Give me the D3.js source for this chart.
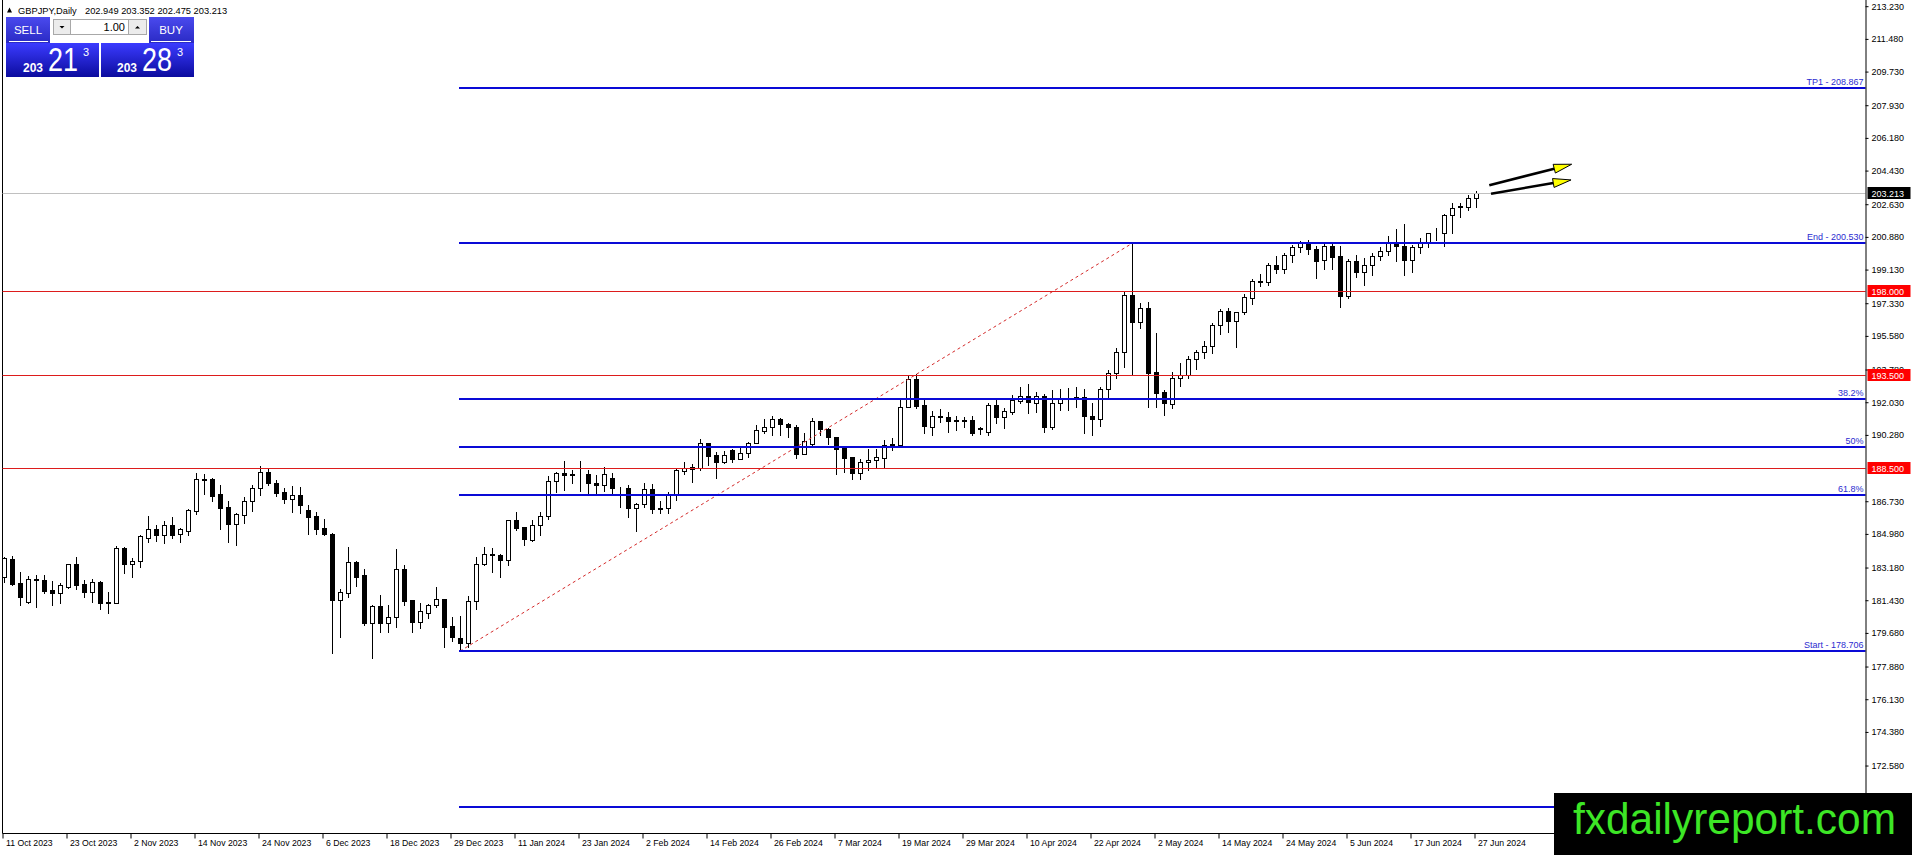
<!DOCTYPE html>
<html>
<head>
<meta charset="utf-8">
<title>GBPJPY Daily</title>
<script src="https://cdn.jsdelivr.net/npm/d3@7"></script>
<style>
  html, body { margin: 0; padding: 0; background: #fff; }
  svg { display: block; font-family: "Liberation Sans", Arial, sans-serif; }
</style>
</head>
<body>
<svg id="chart" width="1912" height="855"></svg>
<script>
// Daily candles, one value per bar (11 Oct 2023 .. 27 Jun 2024)
const opens = [
  182.66,183.62,182.33,181.35,182.57,182.50,181.98,181.84,182.16,183.35,182.30,181.89,182.41,181.30,181.30,184.24,183.35,183.51,184.74,185.23,
  184.90,185.44,184.98,185.15,186.22,187.87,187.92,187.12,186.42,185.49,185.98,186.76,187.42,188.28,187.71,187.22,186.87,187.05,186.26,185.94,
  185.30,184.98,181.42,181.84,183.46,182.78,180.23,181.12,180.23,180.51,183.10,181.42,180.28,180.73,181.16,181.50,180.05,179.39,179.12,181.41,
  183.35,183.89,183.85,183.57,185.73,185.35,184.64,185.44,185.94,187.80,188.24,188.19,188.17,188.19,187.71,187.58,187.96,187.46,187.42,186.35,
  186.58,187.37,186.33,186.35,187.05,188.37,188.44,188.53,189.83,189.20,188.85,189.47,189.01,189.29,189.87,190.51,190.72,191.11,190.85,190.72,
  189.28,189.81,191.03,190.60,190.15,189.60,189.08,188.26,188.81,188.94,189.06,189.76,189.74,191.79,193.26,191.86,190.72,191.29,191.22,191.08,
  191.06,191.08,190.63,190.45,191.88,191.26,191.52,192.08,192.36,192.01,192.36,190.72,191.97,192.24,192.29,192.29,191.29,191.15,192.72,193.58,
  194.70,197.77,196.34,197.06,193.65,192.58,191.93,193.31,193.47,194.33,194.70,195.06,196.16,196.90,196.40,196.84,197.59,198.50,198.45,199.36,
  199.16,199.89,200.32,200.54,200.21,199.64,200.38,199.84,197.73,199.61,198.98,199.38,199.86,200.13,200.54,200.39,199.63,200.34,200.61,201.11,
  201.09,202.05,202.52,202.50,202.95
];
const highs = [
  183.76,183.80,182.94,182.73,182.76,182.76,182.46,182.37,183.35,183.73,182.51,182.57,182.46,181.87,184.32,184.30,183.67,184.94,185.94,185.44,
  185.67,185.87,185.28,186.31,188.22,188.19,187.97,187.60,186.72,186.08,186.97,187.60,188.62,188.49,187.87,187.46,187.53,187.51,186.51,186.15,
  185.76,185.01,182.01,184.28,183.53,183.08,181.18,181.71,181.18,184.17,183.32,181.44,181.26,181.21,182.16,181.51,180.55,180.60,181.67,183.76,
  184.26,184.21,183.89,185.73,186.15,185.37,185.73,186.14,188.08,188.31,188.88,188.40,188.88,188.40,188.13,188.56,188.22,187.51,187.60,186.62,
  187.72,187.65,186.74,187.24,188.53,188.81,188.72,190.06,189.87,189.38,189.44,189.51,189.62,189.92,190.81,191.11,191.29,191.19,190.90,190.81,
  190.36,191.17,191.04,190.67,190.17,189.62,189.12,189.01,189.51,189.51,190.01,190.13,192.18,193.43,193.54,192.18,191.56,191.65,191.52,191.29,
  191.22,191.29,190.72,191.97,192.15,191.70,192.40,192.86,193.01,192.56,192.47,192.68,192.74,192.77,192.83,192.72,191.97,192.83,193.76,194.91,
  197.91,200.53,197.32,197.41,195.75,192.68,193.67,194.11,194.50,194.83,195.31,196.25,197.04,197.09,196.88,197.81,198.64,198.89,199.47,199.86,
  200.00,200.45,200.64,200.71,200.39,200.50,200.54,200.39,199.68,199.91,199.73,200.00,200.36,200.93,201.29,201.57,200.43,200.80,201.11,201.34,
  202.11,202.68,202.71,203.12,203.35
];
const lows = [
  182.42,182.26,181.19,181.30,181.05,181.84,181.16,181.26,182.10,182.01,181.59,181.35,180.98,180.73,181.26,182.91,182.69,183.19,184.57,184.58,
  184.51,184.76,184.57,184.94,186.03,187.13,186.76,185.26,184.57,184.40,185.58,186.22,187.05,187.58,187.03,186.62,186.17,186.12,184.98,184.98,
  184.92,178.59,179.48,181.60,182.21,180.12,178.32,179.75,179.75,180.02,181.19,179.73,179.93,180.50,181.05,178.94,179.27,178.71,178.94,180.96,
  183.32,182.96,182.69,183.33,185.19,184.40,184.62,184.92,185.78,187.24,187.33,187.69,187.28,187.12,187.10,187.28,187.08,186.44,185.90,185.14,
  186.40,186.12,186.12,186.12,186.80,188.17,187.76,188.38,188.67,187.96,188.76,188.85,188.97,189.12,189.83,190.36,190.28,190.28,190.19,189.03,
  189.24,189.69,190.28,189.79,188.17,188.31,187.90,187.94,188.40,188.53,188.53,189.47,189.65,191.76,191.70,190.36,190.29,190.97,190.45,190.54,
  190.72,190.25,190.35,190.30,190.94,190.63,191.40,191.97,191.44,191.52,190.45,190.58,191.61,191.61,191.79,190.40,190.30,190.76,192.33,193.31,
  193.93,193.54,196.02,191.76,191.76,191.35,191.70,192.92,193.31,193.79,194.38,194.68,195.66,195.81,195.00,196.75,197.29,198.25,198.31,198.97,
  198.97,199.55,200.09,199.96,198.70,199.16,199.16,197.15,197.63,198.75,198.31,198.84,199.64,199.91,199.61,198.84,199.02,200.00,200.36,200.71,
  200.39,201.11,201.93,202.32,202.48
];
const closes = [
  183.67,182.30,181.59,182.55,182.50,181.94,181.84,182.25,183.35,182.25,181.89,182.39,181.30,181.33,184.21,183.35,183.53,184.87,185.23,184.90,
  185.44,184.94,185.23,186.24,187.90,187.90,187.03,186.39,185.49,186.03,186.76,187.42,188.28,187.69,187.15,186.87,187.05,186.55,185.90,185.24,
  184.96,181.44,181.85,183.46,182.69,180.19,181.12,180.23,180.53,183.10,181.41,180.28,180.84,181.16,181.48,180.02,179.48,179.12,181.41,183.39,
  183.89,183.83,183.57,185.73,185.31,184.73,185.44,185.92,187.80,188.22,188.12,188.13,188.19,187.69,187.58,188.17,187.42,187.42,186.35,186.58,
  187.37,186.33,186.35,187.05,188.40,188.49,188.54,189.83,189.17,188.85,189.20,189.01,189.29,189.87,190.53,190.69,191.11,190.86,190.72,189.26,
  189.94,191.01,190.58,190.15,189.54,189.06,188.26,188.81,188.94,189.08,189.76,189.78,191.79,193.26,191.83,190.78,191.27,191.22,191.04,191.04,
  191.04,190.40,190.60,191.88,191.26,191.56,192.15,192.36,192.04,192.36,190.72,191.97,192.24,192.22,192.20,191.29,191.15,192.72,193.58,194.70,
  197.77,196.34,197.06,193.61,192.54,191.97,193.31,193.47,194.33,194.70,195.06,196.16,196.90,196.40,196.84,197.66,198.52,198.47,199.36,199.16,
  199.89,200.32,200.54,200.21,199.61,200.38,199.82,197.73,199.61,198.98,199.38,199.86,200.13,200.57,200.38,199.63,200.34,200.61,201.07,201.09,
  202.05,202.43,202.48,202.94,203.21
];

// one date label every 8 bars
const dateLabels = ['11 Oct 2023', '23 Oct 2023', '2 Nov 2023', '14 Nov 2023', '24 Nov 2023', '6 Dec 2023',
  '18 Dec 2023', '29 Dec 2023', '11 Jan 2024', '23 Jan 2024', '2 Feb 2024', '14 Feb 2024', '26 Feb 2024',
  '7 Mar 2024', '19 Mar 2024', '29 Mar 2024', '10 Apr 2024', '22 Apr 2024', '2 May 2024', '14 May 2024',
  '24 May 2024', '5 Jun 2024', '17 Jun 2024', '27 Jun 2024'];
const priceTicks = [213.23, 211.48, 209.73, 207.93, 206.18, 204.43, 202.63, 200.88, 199.13, 197.33, 195.58,
  193.78, 192.03, 190.28, 186.73, 184.98, 183.18, 181.43, 179.68, 177.88, 176.13, 174.38, 172.58];

// Fibonacci object (start bar / end bar) and its levels
const fiboNames = ['TP1 - 208.867', 'End - 200.530', '38.2%', '50%', '61.8%', 'Start - 178.706', ''];
const fiboPrices = [208.867, 200.530, 192.193, 189.618, 187.043, 178.706, 170.369];
const fiboBars = [57, 141];
const redLevels = [198.000, 193.500, 188.500];
const bidPrice = 203.213;
const headerValues = [202.949, 203.352, 202.475, 203.213];

// two arrows: [bar, price] for tail and tip
const arrowTails = [[185.66, 203.64], [185.88, 203.19]];
const arrowTips = [[195.96, 204.77], [195.88, 203.93]];

const svg = d3.select('#chart');
const plotLeft = 2.5, plotRight = 1865.5, plotBottom = 833.5;

const x = d3.scaleLinear().domain([0, 184]).range([4, 1476]);
const y = d3.scaleLinear().domain([168.969, 213.562]).range([833, 0]);
const fmt = d3.format('.3f');

// gradients for the trade panel
const defs = svg.append('defs');
const g1 = defs.append('linearGradient').attr('id', 'priceGrad').attr('x1', 0).attr('y1', 0).attr('x2', 0).attr('y2', 1);
g1.append('stop').attr('offset', '0%').attr('stop-color', '#3b3bff');
g1.append('stop').attr('offset', '100%').attr('stop-color', '#0c0c9e');
const g2 = defs.append('linearGradient').attr('id', 'btnGrad').attr('x1', 0).attr('y1', 0).attr('x2', 0).attr('y2', 1);
g2.append('stop').attr('offset', '0%').attr('stop-color', '#4a4aee');
g2.append('stop').attr('offset', '100%').attr('stop-color', '#2a2ac4');

// frame
svg.append('line').attr('x1', plotLeft).attr('x2', plotLeft).attr('y1', 0).attr('y2', plotBottom)
  .attr('stroke', '#000');
svg.append('line').attr('x1', plotLeft).attr('x2', plotRight).attr('y1', plotBottom).attr('y2', plotBottom)
  .attr('stroke', '#000');

// candles
const bars = d3.range(opens.length);
const candle = svg.append('g').attr('class', 'candles');
candle.selectAll('line')
  .data(bars)
  .enter()
  .append('line')
  .attr('x1', i => x(i) + 0.5)
  .attr('x2', i => x(i) + 0.5)
  .attr('y1', i => Math.round(y(highs[i])))
  .attr('y2', i => Math.round(y(lows[i])) + 1)
  .attr('stroke', '#000');
candle.selectAll('rect')
  .data(bars)
  .enter()
  .append('rect')
  .attr('x', i => x(i) - 1.5)
  .attr('width', 4)
  .attr('y', i => Math.round(y(Math.max(opens[i], closes[i]))) + 0.5)
  .attr('height', i => Math.max(Math.round(y(Math.min(opens[i], closes[i]))) - Math.round(y(Math.max(opens[i], closes[i]))), 0))
  .attr('fill', i => closes[i] >= opens[i] ? '#fff' : '#000')
  .attr('stroke', '#000');

// bid line
svg.append('line').attr('x1', plotLeft).attr('x2', plotRight)
  .attr('y1', Math.round(y(bidPrice)) + 0.5).attr('y2', Math.round(y(bidPrice)) + 0.5)
  .attr('stroke', '#c0c0c0');

// red horizontal levels
svg.append('g').selectAll('line')
  .data(redLevels)
  .enter()
  .append('line')
  .attr('x1', plotLeft).attr('x2', plotRight)
  .attr('y1', d => Math.round(y(d)) + 0.5).attr('y2', d => Math.round(y(d)) + 0.5)
  .attr('stroke', '#dd1c1c');

// fibo trend line
svg.append('line')
  .attr('x1', x(fiboBars[0])).attr('y1', y(fiboPrices[5]))
  .attr('x2', x(fiboBars[1])).attr('y2', y(fiboPrices[1]))
  .attr('stroke', '#d42a2a')
  .attr('stroke-dasharray', '3,3');

// fibo levels
const fibo = svg.append('g').attr('class', 'fibo');
fibo.selectAll('line')
  .data(fiboPrices)
  .enter()
  .append('line')
  .attr('x1', x(fiboBars[0]) - 1).attr('x2', plotRight)
  .attr('y1', d => Math.round(y(d))).attr('y2', d => Math.round(y(d)))
  .attr('stroke', '#0a0ad6')
  .attr('stroke-width', 2);
fibo.selectAll('text')
  .data(fiboPrices.filter((d, i) => fiboNames[i] !== ''))
  .enter()
  .append('text')
  .attr('x', plotRight - 2)
  .attr('y', d => Math.round(y(d)) - 3)
  .attr('text-anchor', 'end')
  .attr('font-size', 9)
  .attr('fill', '#2b2bd0')
  .text((d, i) => fiboNames[i]);

// arrows
const arrows = svg.append('g').attr('class', 'arrows');
arrowTails.forEach((t, k) => {
  const x1 = x(t[0]), y1 = y(t[1]);
  const x2 = x(arrowTips[k][0]), y2 = y(arrowTips[k][1]);
  const ang = Math.atan2(y2 - y1, x2 - x1);
  const len = 18, half = 4.5;
  const bx = x2 - len * Math.cos(ang), by = y2 - len * Math.sin(ang);
  arrows.append('line')
    .attr('x1', x1).attr('y1', y1).attr('x2', bx).attr('y2', by)
    .attr('stroke', '#000').attr('stroke-width', 2.6);
  const pts = [
    [x2, y2],
    [bx - half * Math.sin(ang), by + half * Math.cos(ang)],
    [bx + half * Math.sin(ang), by - half * Math.cos(ang)]
  ];
  arrows.append('polygon')
    .attr('points', pts.map(p => p.join(',')).join(' '))
    .attr('fill', '#ffff00')
    .attr('stroke', '#000')
    .attr('stroke-width', 1);
});

// price axis
const yAxis = d3.axisRight(y).tickValues(priceTicks).tickFormat(fmt).tickSize(3).tickPadding(3);
const gy = svg.append('g').attr('transform', `translate(${plotRight},0)`).call(yAxis);
gy.select('.domain').attr('d', `M0.5,0V${plotBottom}`).attr('stroke', '#000');
gy.selectAll('text').attr('font-size', 9).attr('font-family', '"Liberation Sans", Arial, sans-serif').attr('fill', '#000');
gy.selectAll('line').attr('stroke', '#000');

// date axis
const xAxis = d3.axisBottom(x)
  .tickValues(dateLabels.map((d, i) => i * 8))
  .tickFormat((d, i) => dateLabels[i])
  .tickSize(5)
  .tickPadding(1);
const gx = svg.append('g').attr('transform', `translate(-1.5,${plotBottom})`).call(xAxis);
gx.select('.domain').remove();
gx.selectAll('text').attr('text-anchor', 'start').attr('dx', 3)
  .attr('font-size', 8.7).attr('font-family', '"Liberation Sans", Arial, sans-serif').attr('fill', '#000');
gx.selectAll('line').attr('stroke', '#000');

// price tags on the axis
const tags = [{ p: bidPrice, bg: '#000' }].concat(redLevels.map(p => ({ p: p, bg: '#ff0000' })));
const tag = svg.append('g').selectAll('g')
  .data(tags)
  .enter()
  .append('g')
  .attr('transform', d => `translate(${plotRight + 2},${Math.round(y(d.p))})`);
tag.append('rect').attr('x', 0).attr('y', -6).attr('width', 43).attr('height', 12).attr('fill', d => d.bg);
tag.append('text').attr('x', 4).attr('y', 3.5).attr('font-size', 9).attr('fill', '#fff').text(d => fmt(d.p));

// header line
const head = svg.append('g');
head.append('polygon').attr('points', '7,12.5 9.5,7.5 12,12.5').attr('fill', '#000');
head.append('text').attr('x', 18).attr('y', 13.5).attr('font-size', 9.3).text('GBPJPY,Daily');
head.append('text').attr('x', 85).attr('y', 13.5).attr('font-size', 9.3)
  .text(headerValues.map(fmt).join(' '));

// one-click trading panel
const panel = svg.append('g').attr('class', 'trade-panel');
panel.append('rect').attr('x', 6).attr('y', 17).attr('width', 44).attr('height', 26).attr('fill', 'url(#btnGrad)');
panel.append('rect').attr('x', 149).attr('y', 17).attr('width', 45).attr('height', 26).attr('fill', 'url(#btnGrad)');
panel.append('line').attr('x1', 9).attr('x2', 48).attr('y1', 41.5).attr('y2', 41.5).attr('stroke', '#fff');
panel.append('line').attr('x1', 151).attr('x2', 191).attr('y1', 41.5).attr('y2', 41.5).attr('stroke', '#fff');
panel.append('text').attr('x', 28).attr('y', 34).attr('text-anchor', 'middle').attr('font-size', 11.5).attr('fill', '#fff').text('SELL');
panel.append('text').attr('x', 171).attr('y', 34).attr('text-anchor', 'middle').attr('font-size', 11.5).attr('fill', '#fff').text('BUY');
panel.append('rect').attr('x', 53.5).attr('y', 19.5).attr('width', 17).attr('height', 15).attr('fill', '#ececec').attr('stroke', '#a8a8a8');
panel.append('rect').attr('x', 70.5).attr('y', 19.5).attr('width', 58).attr('height', 15).attr('fill', '#fff').attr('stroke', '#a8a8a8');
panel.append('rect').attr('x', 128.5).attr('y', 19.5).attr('width', 18).attr('height', 15).attr('fill', '#ececec').attr('stroke', '#a8a8a8');
panel.append('polygon').attr('points', '59.5,26 64.5,26 62,28.5').attr('fill', '#000');
panel.append('polygon').attr('points', '135,28.5 140,28.5 137.5,26').attr('fill', '#000');
panel.append('text').attr('x', 125).attr('y', 31).attr('text-anchor', 'end').attr('font-size', 11).text('1.00');

panel.append('rect').attr('x', 6).attr('y', 43).attr('width', 93).attr('height', 34).attr('fill', 'url(#priceGrad)');
panel.append('rect').attr('x', 101).attr('y', 43).attr('width', 93).attr('height', 34).attr('fill', 'url(#priceGrad)');
[[23, 48, 83, '21'], [117, 142, 177, '28']].forEach(d => {
  panel.append('text').attr('x', d[0]).attr('y', 72).attr('font-size', 12).attr('font-weight', 'bold').attr('fill', '#fff').text('203');
  panel.append('text').attr('x', d[1]).attr('y', 71).attr('font-size', 33).attr('fill', '#fff')
    .attr('textLength', 30).attr('lengthAdjust', 'spacingAndGlyphs').text(d[3]);
  panel.append('text').attr('x', d[2]).attr('y', 55.5).attr('font-size', 11).attr('fill', '#fff').text('3');
});

// site badge
svg.append('rect').attr('x', 1554).attr('y', 793).attr('width', 358).attr('height', 62).attr('fill', '#000');
svg.append('text').attr('x', 1573).attr('y', 834).attr('font-size', 44).attr('fill', '#3de626')
  .attr('textLength', 323).attr('lengthAdjust', 'spacingAndGlyphs').text('fxdailyreport.com');
</script>
</body>
</html>
